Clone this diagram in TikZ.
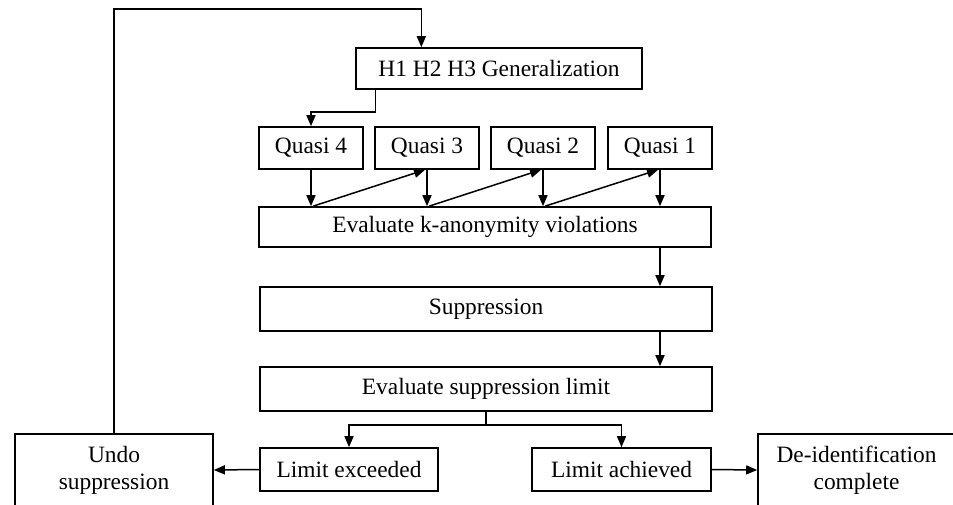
\documentclass[tikz,border=0pt]{standalone}
\usepackage{fontspec}
\setmainfont{Liberation Serif}
\usetikzlibrary{arrows.meta,calc}
\begin{document}
\begin{tikzpicture}[x=1pt,y=-1pt,
  box/.style={draw, line width=1.6pt, inner sep=0pt, align=center,
    font=\fontsize{23.4}{27}\selectfont},
  arr/.style={line width=1.5pt, -{Triangle[length=11pt,width=9pt]}},
  ln/.style={line width=1.5pt}]
\useasboundingbox (0,0) rectangle (953,504);
\clip (0,0) rectangle (953,504);
\node[box, minimum width=286pt, minimum height=41pt] (h) at (499,68.5) {H1 H2 H3 Generalization};
\node[box, minimum width=104pt, minimum height=42pt] (q4) at (311,148) {Quasi 4};
\node[box, minimum width=104pt, minimum height=42pt] (q3) at (427,148) {Quasi 3};
\node[box, minimum width=104pt, minimum height=42pt] (q2) at (543,148) {Quasi 2};
\node[box, minimum width=104pt, minimum height=42pt] (q1) at (660,148) {Quasi 1};
\node[box, minimum width=452pt, minimum height=40pt] (ev) at (485,227) {Evaluate k-anonymity violations};
\node[box, minimum width=452pt, minimum height=44pt] (su) at (486,309) {Suppression};
\node[box, minimum width=452pt, minimum height=44pt] (esl) at (486,389) {Evaluate suppression limit};
\node[box, minimum width=178pt, minimum height=43pt] (lex) at (349,469.5) {Limit exceeded};
\node[box, minimum width=179pt, minimum height=43pt] (lach) at (621.5,469.5) {Limit achieved};
\node[box, minimum width=198pt, minimum height=72pt] (undo) at (114,470) {Undo\\suppression};
\node[box, minimum width=197pt, minimum height=72pt] (deid) at (856.5,470) {De-identification\\complete};
% loop back
\coordinate (rail) at (0,9);
\coordinate (hin) at ($(h.north west)!0.23!(h.north east)$);
\draw[arr] (undo.north) -- (undo.north |- rail) -| (hin);
% generalization to quasi 4
\coordinate (hout) at ($(h.south west)!0.07!(h.south east)$);
\draw[arr] (hout) -- ++(0,22) -| (q4.north);
% quasi down arrows
\foreach \q in {q4,q3,q2,q1} {
  \draw[arr] (\q.south) -- (\q.south |- ev.north);
}
% diagonal arrows
\draw[arr] ([xshift=2pt]q4.south |- ev.north) -- ([xshift=-2pt]q3.south);
\draw[arr] ([xshift=2pt]q3.south |- ev.north) -- ([xshift=-2pt]q2.south);
\draw[arr] ([xshift=2pt]q2.south |- ev.north) -- ([xshift=-2pt]q1.south);
% chain down
\draw[arr] (q1.south |- ev.south) -- (q1.south |- su.north);
\draw[arr] (q1.south |- su.south) -- (q1.south |- esl.north);
% branch
\coordinate (br) at ($(esl.south)+(0,13)$);
\draw[ln] (esl.south) -- (br);
\draw[arr] (br) -| (lex.north);
\draw[arr] (br) -| (lach.north);
% outcomes
\draw[arr] (lex.west) -- (undo.east);
\draw[arr] (lach.east) -- (deid.west);
\end{tikzpicture}
\end{document}
